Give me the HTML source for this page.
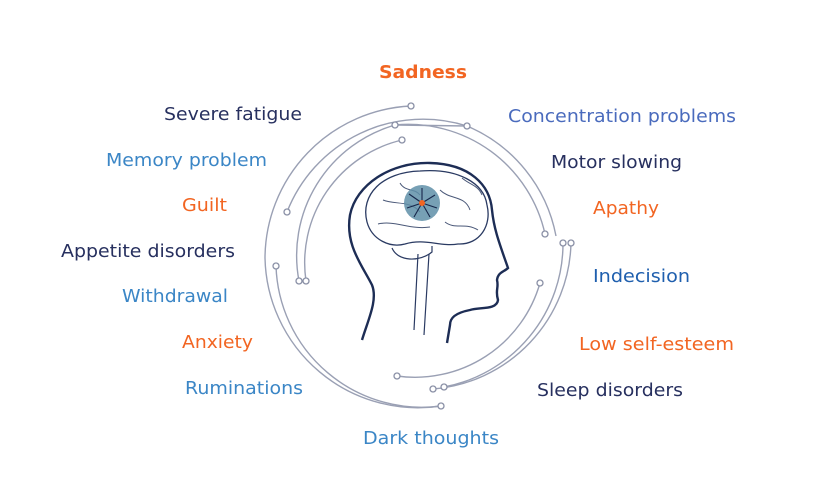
<!DOCTYPE html>
<html><head><meta charset="utf-8"><style>
html,body{margin:0;padding:0;background:#fff;}
svg{display:block}
text{font-family:"DejaVu Sans","Liberation Sans",sans-serif;font-size:18px;}
.n{fill:#27305f}.b{fill:#3b86c6}.o{fill:#f26522}.c{fill:#4a6bbd}.i{fill:#1f5fae}
.a{fill:none;stroke:#9aa0b4;stroke-width:1.4}
.d{fill:#fff;stroke:#8a90a6;stroke-width:1.3}
</style></head><body>
<svg width="830" height="481" viewBox="0 0 830 481">
<text x="379" y="78" class="o" font-weight="bold" textLength="88" lengthAdjust="spacingAndGlyphs">Sadness</text>
<text x="164" y="120" class="n" textLength="138" lengthAdjust="spacingAndGlyphs">Severe fatigue</text>
<text x="508" y="122" class="c" textLength="228" lengthAdjust="spacingAndGlyphs">Concentration problems</text>
<text x="106" y="166" class="b" textLength="161" lengthAdjust="spacingAndGlyphs">Memory problem</text>
<text x="551" y="168" class="n" textLength="131" lengthAdjust="spacingAndGlyphs">Motor slowing</text>
<text x="182" y="211" class="o" textLength="45" lengthAdjust="spacingAndGlyphs">Guilt</text>
<text x="593" y="214" class="o" textLength="66" lengthAdjust="spacingAndGlyphs">Apathy</text>
<text x="61" y="257" class="n" textLength="174" lengthAdjust="spacingAndGlyphs">Appetite disorders</text>
<text x="593" y="282" class="i" textLength="97" lengthAdjust="spacingAndGlyphs">Indecision</text>
<text x="122" y="302" class="b" textLength="106" lengthAdjust="spacingAndGlyphs">Withdrawal</text>
<text x="182" y="348" class="o" textLength="71" lengthAdjust="spacingAndGlyphs">Anxiety</text>
<text x="579" y="350" class="o" textLength="155" lengthAdjust="spacingAndGlyphs">Low self-esteem</text>
<text x="185" y="394" class="b" textLength="118" lengthAdjust="spacingAndGlyphs">Ruminations</text>
<text x="537" y="396" class="n" textLength="146" lengthAdjust="spacingAndGlyphs">Sleep disorders</text>
<text x="363" y="444" class="b" textLength="136" lengthAdjust="spacingAndGlyphs">Dark thoughts</text>

<path class="a" d="M411,106 A153,153 0 0 0 265,258 A153,153 0 0 0 441,406"/>
<path class="a" d="M276,266 A146,146 0 0 0 441,406"/>
<path class="a" d="M287,212 A146,146 0 0 1 467,126"/>
<path class="a" d="M395,125 A140,140 0 0 1 545,234"/>
<path class="a" d="M395,125 L467,126"/>
<path class="a" d="M467,126 A150,150 0 0 1 556,236"/>
<path class="a" d="M402,140 A126,126 0 0 0 306,281"/>
<path class="a" d="M395,125 A136,136 0 0 0 299,281"/>
<path class="a" d="M571,243 A150,150 0 0 1 433,389"/>
<path class="a" d="M563,243 A146,146 0 0 1 444,387"/>
<path class="a" d="M540,283 A130,130 0 0 1 397,376"/>
<g class="d">
<circle cx="411" cy="106" r="3"/><circle cx="441" cy="406" r="3"/><circle cx="276" cy="266" r="3"/>
<circle cx="287" cy="212" r="3"/><circle cx="467" cy="126" r="3"/><circle cx="395" cy="125" r="3"/>
<circle cx="545" cy="234" r="3"/><circle cx="402" cy="140" r="3"/><circle cx="306" cy="281" r="3"/>
<circle cx="299" cy="281" r="3"/><circle cx="571" cy="243" r="3"/><circle cx="563" cy="243" r="3"/>
<circle cx="433" cy="389" r="3"/><circle cx="444" cy="387" r="3"/><circle cx="540" cy="283" r="3"/>
<circle cx="397" cy="376" r="3"/>
</g>
<path d="M362,340 C368,320 378,300 372,285 C362,265 345,245 350,215 C356,185 390,162 430,163 C470,164 490,185 492,210 C494,230 500,245 508,268 C504,272 498,272 497,280 C499,288 495,290 498,300 C497,310 480,307 470,310 C455,313 450,318 450,325 L447,343" fill="none" stroke="#1d2d55" stroke-width="2.4"/>
<path d="M367,222 C360,195 382,172 420,171 C458,168 484,183 487,205 C492,225 480,245 458,244 C440,247 425,238 405,244 C390,248 372,240 367,222 Z" fill="#fff" stroke="#2a3a62" stroke-width="1.3"/>
<path d="M383,200 C395,205 410,200 420,212 M440,190 C450,200 465,195 470,210 M378,224 C395,220 410,230 430,227 M445,222 C455,230 465,222 478,230 M400,183 C405,192 415,188 420,195 M462,178 C470,185 478,185 482,195" fill="none" stroke="#4a5878" stroke-width="1"/>
<path d="M392,248 C398,262 420,262 432,252 L432,246" fill="none" stroke="#2a3a62" stroke-width="1.2"/>
<path d="M418,254 L414,330 M429,254 L424,335" fill="none" stroke="#2a3a62" stroke-width="1.2"/>
<circle cx="422" cy="203" r="18" fill="#5f8fa8" opacity="0.85"/>
<g stroke="#16264a" stroke-width="1.1">
<line x1="422" y1="203" x2="422" y2="188"/><line x1="422" y1="203" x2="435" y2="195"/><line x1="422" y1="203" x2="437" y2="208"/>
<line x1="422" y1="203" x2="430" y2="217"/><line x1="422" y1="203" x2="414" y2="217"/><line x1="422" y1="203" x2="407" y2="208"/>
<line x1="422" y1="203" x2="409" y2="194"/>
</g>
<circle cx="422" cy="203" r="3" fill="#f26522"/>
</svg>
</body></html>
